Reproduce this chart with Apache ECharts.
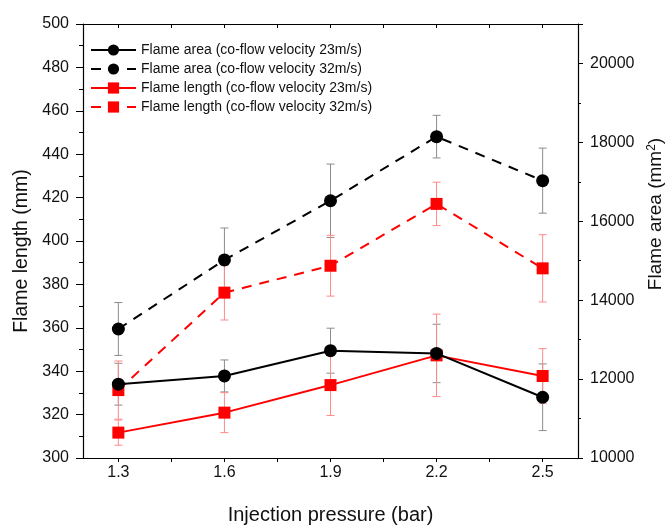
<!DOCTYPE html>
<html>
<head>
<meta charset="utf-8">
<script src="https://cdn.jsdelivr.net/npm/echarts@6/dist/echarts.min.js"></script>
<style>html,body{margin:0;padding:0;background:#fff;}#c{width:665px;height:527px;}</style>
</head>
<body>
<div id="c"></div>
<script>
// ---- data ----
const pressure = [1.3, 1.6, 1.9, 2.2, 2.5];
const xLabelValues = [1.3, 1.6, 1.9, 2.2, 2.5];
const areaV23 = [11870, 12080, 12720, 12650, 11540];
const areaV23Err = [530, 405, 570, 740, 845];
const areaV32 = [13270, 15020, 16520, 18145, 17030];
const areaV32Err = [670, 810, 930, 540, 825];
const lengthV23 = [311.7, 320.9, 333.6, 347.3, 337.8];
const lengthV23Err = [5.8, 9.2, 14, 19, 12.6];
const lengthV32 = [331.3, 376.2, 388.6, 417.1, 387.4];
const lengthV32Err = [13.4, 12.6, 14, 10, 15.5];
const names = [
  'Flame area (co-flow velocity 23m/s)',
  'Flame area (co-flow velocity 32m/s)',
  'Flame length (co-flow velocity 23m/s)',
  'Flame length (co-flow velocity 32m/s)'
];

// tick positions: categories and midpoints
const xTickValues = [];
pressure.forEach((p, i) => {
  xTickValues.push(p);
  if (i < pressure.length - 1) xTickValues.push(+((p + pressure[i + 1]) / 2).toFixed(2));
});

const FONT = 'Liberation Sans, Arial, sans-serif';
const TXT = '#111';
const pts = (ys) => pressure.map((x, i) => [x, ys[i]]);
const errs = (ys, es) => pressure.map((x, i) => [x, ys[i] - es[i], ys[i] + es[i]]);

function errRender(color) {
  return function (params, api) {
    const x = api.value(0);
    const lo = api.coord([x, api.value(1)]);
    const hi = api.coord([x, api.value(2)]);
    const w = 4;
    const st = { stroke: color, lineWidth: 1 };
    return {
      type: 'group',
      children: [
        { type: 'line', shape: { x1: hi[0], y1: hi[1], x2: lo[0], y2: lo[1] }, style: st },
        { type: 'line', shape: { x1: hi[0] - w, y1: hi[1], x2: hi[0] + w, y2: hi[1] }, style: st },
        { type: 'line', shape: { x1: lo[0] - w, y1: lo[1], x2: lo[0] + w, y2: lo[1] }, style: st }
      ]
    };
  };
}

const axisLineStyle = { color: '#000', width: 1.2 };
const chart = echarts.init(document.getElementById('c'));
chart.setOption({
  animation: false,
  backgroundColor: '#fff',
  textStyle: { fontFamily: FONT },
  grid: { left: 83, right: 87, top: 24, bottom: 69, containLabel: false, outerBoundsMode: 'none' },
  legend: {
    left: 85, top: 38, orient: 'vertical', padding: 5,
    itemWidth: 45, itemHeight: 14, itemGap: 5,
    textStyle: { fontFamily: FONT, fontSize: 14, color: TXT },
    data: names
  },
  xAxis: [{
    type: 'value', min: 1.2, max: 2.6,
    name: 'Injection pressure (bar)', nameLocation: 'middle', nameGap: 47,
    nameTextStyle: { fontFamily: FONT, fontSize: 20, color: TXT },
    axisLine: { show: true, onZero: false, lineStyle: axisLineStyle },
    axisTick: { show: true, length: 4, lineStyle: { color: '#000' }, customValues: xTickValues },
    axisLabel: { customValues: xLabelValues, fontFamily: FONT, fontSize: 16, color: TXT, margin: 7,
      formatter: v => v.toFixed(1) },
    splitLine: { show: false }
  }, {
    type: 'value', min: 1.2, max: 2.6, position: 'top',
    axisLine: { show: true, onZero: false, lineStyle: axisLineStyle },
    axisTick: { show: true, inside: true, length: 4, lineStyle: { color: '#000' }, customValues: xTickValues },
    axisLabel: { show: false },
    splitLine: { show: false }
  }],
  yAxis: [{
    type: 'value', min: 300, max: 500, interval: 20, position: 'left',
    name: 'Flame length (mm)', nameLocation: 'middle', nameGap: 50,
    nameTextStyle: { fontFamily: FONT, fontSize: 19.5, color: TXT, padding: [0, 20, 0, 0] },
    axisLine: { show: true, onZero: false, lineStyle: axisLineStyle },
    axisTick: { show: true, length: 7, lineStyle: { color: '#000' } },
    minorTick: { show: true, splitNumber: 2, length: 4, lineStyle: { color: '#000' } },
    axisLabel: { fontFamily: FONT, fontSize: 16, color: TXT, margin: 14 },
    splitLine: { show: false }
  }, {
    type: 'value', min: 10000, max: 21000, interval: 2000, position: 'right',
    name: 'Flame area (mm{sup|2})', nameLocation: 'middle', nameGap: 67,
    nameTextStyle: { fontFamily: FONT, fontSize: 19, color: TXT, padding: [0, 0, 0, 54],
      rich: { sup: { fontFamily: FONT, fontSize: 12, color: TXT, verticalAlign: 'top', padding: [0, 0, 9, 0] } } },
    axisLine: { show: true, onZero: false, lineStyle: axisLineStyle },
    axisTick: { show: true, length: 5, lineStyle: { color: '#000' } },
    minorTick: { show: true, splitNumber: 2, length: 3, lineStyle: { color: '#000' } },
    axisLabel: { fontFamily: FONT, fontSize: 16, color: TXT, margin: 12, showMaxLabel: false,
      formatter: v => (v > 20000 ? '' : String(v)) },
    splitLine: { show: false }
  }],
  series: [
    { type: 'custom', yAxisIndex: 1, z: 1, silent: true, renderItem: errRender('#8c8c8c'), data: errs(areaV23, areaV23Err) },
    { type: 'custom', yAxisIndex: 1, z: 1, silent: true, renderItem: errRender('#8c8c8c'), data: errs(areaV32, areaV32Err) },
    { type: 'custom', yAxisIndex: 0, z: 1, silent: true, renderItem: errRender('#ff8a8a'), data: errs(lengthV23, lengthV23Err) },
    { type: 'custom', yAxisIndex: 0, z: 1, silent: true, renderItem: errRender('#ff8a8a'), data: errs(lengthV32, lengthV32Err) },
    { name: names[0], type: 'line', yAxisIndex: 1, z: 3, data: pts(areaV23),
      symbol: 'circle', symbolSize: 13, itemStyle: { color: '#000' },
      lineStyle: { color: '#000', width: 2 } },
    { name: names[1], type: 'line', yAxisIndex: 1, z: 3, data: pts(areaV32),
      symbol: 'circle', symbolSize: 13, itemStyle: { color: '#000' },
      lineStyle: { color: '#000', width: 2, type: [10, 8] } },
    { name: names[2], type: 'line', yAxisIndex: 0, z: 2, data: pts(lengthV23),
      symbol: 'rect', symbolSize: 12, itemStyle: { color: '#ff0000' },
      lineStyle: { color: '#ff0000', width: 2 } },
    { name: names[3], type: 'line', yAxisIndex: 0, z: 2, data: pts(lengthV32),
      symbol: 'rect', symbolSize: 12, itemStyle: { color: '#ff0000' },
      lineStyle: { color: '#ff0000', width: 2, type: [10, 8] } }
  ]
});
</script>
</body>
</html>
